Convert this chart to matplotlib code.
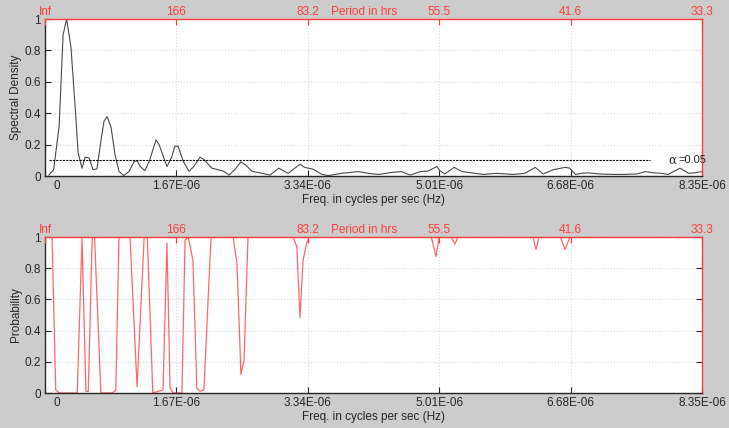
import numpy as np
import matplotlib
matplotlib.use("Agg")
import matplotlib.pyplot as plt
from matplotlib.transforms import ScaledTranslation

plt.rcParams['font.family'] = ['Liberation Sans', 'DejaVu Sans']

# frequency ticks (Hz) and matching period labels (hrs)
freq_ticks = np.array([0, 1.67, 3.34, 5.01, 6.68, 8.35]) * 1e-6
freq_labels = ['0', '1.67E-06', '3.34E-06', '5.01E-06', '6.68E-06', '8.35E-06']
period_labels = ['Inf', '166', '83.2', '55.5', '41.6', '33.3']
y_ticks = [0, 0.2, 0.4, 0.6, 0.8, 1]
y_labels = ['0', '0.2', '0.4', '0.6', '0.8', '1']

# spectral density, freq in 1e-6 Hz
spec_f = np.array([0.05, 0.11, 0.18, 0.23, 0.275, 0.33, 0.39, 0.42, 0.47, 0.51, 0.56, 0.61,
                   0.66, 0.71, 0.75, 0.79, 0.84, 0.89, 0.94, 1.00, 1.07, 1.13, 1.17, 1.21,
                   1.27, 1.33, 1.41, 1.45, 1.55, 1.61, 1.65, 1.69, 1.76, 1.83, 1.89, 1.97,
                   2.02, 2.12, 2.20, 2.27, 2.34, 2.41, 2.49, 2.55, 2.63, 2.73, 2.86, 2.97,
                   3.09, 3.24, 3.30, 3.41, 3.52, 3.60, 3.77, 3.98, 4.11, 4.24, 4.41, 4.53,
                   4.64, 4.77, 4.87, 4.98, 5.02, 5.08, 5.20, 5.30, 5.42, 5.57, 5.74, 5.95,
                   6.10, 6.23, 6.33, 6.46, 6.61, 6.67, 6.74, 6.82, 6.90, 7.05, 7.22, 7.37,
                   7.52, 7.63, 7.73, 7.83, 7.92, 8.07, 8.18, 8.26, 8.35]) * 1e-6
spec_val = [0.006, 0.04, 0.32, 0.90, 1.0, 0.82, 0.39, 0.15, 0.05, 0.12, 0.115, 0.04,
            0.045, 0.22, 0.35, 0.378, 0.31, 0.135, 0.03, 0.003, 0.03, 0.09, 0.098, 0.06,
            0.034, 0.10, 0.23, 0.20, 0.06, 0.12, 0.19, 0.19, 0.09, 0.03, 0.06, 0.12,
            0.105, 0.05, 0.04, 0.03, 0.006, 0.04, 0.09, 0.07, 0.03, 0.02, 0.006, 0.05,
            0.017, 0.075, 0.055, 0.043, 0.01, 0.003, 0.017, 0.028, 0.017, 0.01, 0.023, 0.028,
            0.006, 0.028, 0.032, 0.06, 0.034, 0.013, 0.055, 0.028, 0.02, 0.01, 0.017, 0.01,
            0.017, 0.055, 0.013, 0.04, 0.055, 0.05, 0.01, 0.017, 0.02, 0.013, 0.01, 0.01,
            0.013, 0.028, 0.02, 0.017, 0.01, 0.05, 0.017, 0.02, 0.028]

# significance level line
sig_level = 0.1
sig_f = np.array([0.05, 7.69]) * 1e-6

# probability series, freq in 1e-6 Hz
prob_f = np.array([0.01, 0.09, 0.136, 0.18, 0.41, 0.47, 0.52, 0.55, 0.60, 0.63, 0.71, 0.855,
                   0.90, 0.94, 1.08, 1.17, 1.26, 1.30, 1.37, 1.50, 1.55, 1.59, 1.63, 1.74,
                   1.78, 1.82, 1.88, 1.93, 1.97, 2.02, 2.11, 2.39, 2.44, 2.49, 2.53, 2.58,
                   3.15, 3.20, 3.24, 3.28, 3.33, 3.36, 4.91, 4.97, 5.01, 5.16, 5.21, 5.25,
                   6.20, 6.24, 6.28, 6.55, 6.61, 6.67, 8.03, 8.05, 8.07, 8.35]) * 1e-6
prob_val = [1, 1, 0.02, 0, 0, 0.99, 0.01, 0.01, 1, 1, 0, 0,
            0.02, 1, 1, 0.04, 1, 1, 0, 0.02, 0.96, 0.03, 0, 0,
            0.98, 1, 0.85, 0.03, 0.01, 0.02, 1, 1, 0.83, 0.12, 0.21, 1,
            1, 0.94, 0.485, 0.85, 0.97, 1, 1, 0.875, 1, 1, 0.955, 1,
            1, 0.92, 1, 1, 0.92, 1, 1, 0.995, 1, 1]

W, H = 729, 428
fig = plt.figure(figsize=(W / 100, H / 100), dpi=100, facecolor='#cccccc')
red = '#ff3b3b'
dark = '#262626'


def make_axes(top_px, bot_px):
    ax = fig.add_axes([45 / W, 1 - bot_px / H, (702 - 45) / W, (bot_px - top_px) / H])
    ax.set_xlim(0, 8.35e-6)
    ax.set_ylim(0, 1)
    ax.set_xticks(freq_ticks)
    ax.set_xticklabels(freq_labels)
    ax.set_yticks(y_ticks)
    ax.set_yticklabels(y_labels)
    ax.tick_params(direction='in', length=4, labelsize=8.5, colors=dark, pad=3)
    ax.grid(True, color='#d8d8d8', linestyle=':', linewidth=0.8)
    for s in ['left', 'bottom']:
        ax.spines[s].set_color(dark)
        ax.spines[s].set_linewidth(1.0)
    for s in ['top', 'right']:
        ax.spines[s].set_color(red)
        ax.spines[s].set_linewidth(1.0)
    # the "0" label sits a bit to the right of the axis origin
    lbl = ax.get_xticklabels()[0]
    lbl.set_transform(lbl.get_transform() + ScaledTranslation(12 / 100, 0, fig.dpi_scale_trans))
    ax.set_xlabel('Freq. in cycles per sec (Hz)', fontsize=8.5, color=dark, labelpad=1)

    top = ax.twiny()
    top.set_xlim(ax.get_xlim())
    top.set_xticks(freq_ticks)
    top.set_xticklabels(period_labels)
    top.tick_params(direction='in', length=4, labelsize=8.5, colors=red, pad=1)
    for s in top.spines.values():
        s.set_visible(False)
    ax.text(0.485, 1.005, 'Period in hrs', transform=ax.transAxes, color=red,
            fontsize=8.5, ha='center', va='bottom')
    return ax


ax1 = make_axes(19, 176)
ax1.plot(spec_f, spec_val, color='#4a4a4a', linewidth=0.8)
ax1.plot(sig_f, [sig_level, sig_level], color='black', linewidth=0.8, linestyle=(0, (2, 1)))
ax1.text(7.92e-6, sig_level, '\u03b1', fontsize=8.5, color=dark, va='center', ha='left',
         family='DejaVu Serif')
ax1.annotate('=0.05', xy=(7.92e-6, sig_level), xytext=(7.5, 0), textcoords='offset points',
             fontsize=8, color=dark, va='center', ha='left')
ax1.set_ylabel('Spectral Density', fontsize=8.5, color=dark, labelpad=2)

ax2 = make_axes(237, 393)
ax2.plot(prob_f, prob_val, color='#ff4d4d', linewidth=0.9, alpha=0.85)
ax2.set_ylabel('Probability', fontsize=8.5, color=dark, labelpad=2)
ax2.tick_params(axis='y', right=True)

fig.savefig('out.png', dpi=100, facecolor=fig.get_facecolor())
